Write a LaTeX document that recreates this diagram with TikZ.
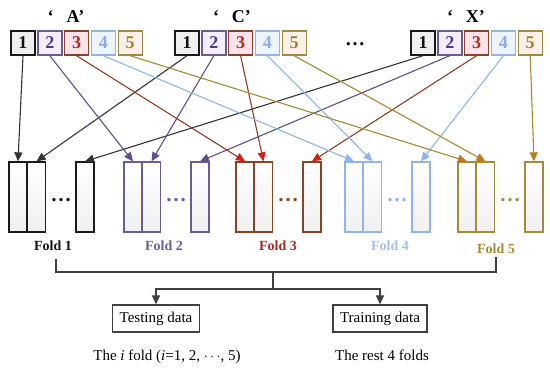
\documentclass[tikz,border=0pt]{standalone}
\usepackage{fontspec}
\setmainfont{Liberation Serif}
\usepackage{tikz}
\usetikzlibrary{arrows.meta,calc,positioning}
% colours of the five parts
\definecolor{bd1}{HTML}{1A1A1A} \definecolor{bd2}{HTML}{6B5B9B} \definecolor{bd3}{HTML}{8E4224}
\definecolor{bd4}{HTML}{93B3EE} \definecolor{bd5}{HTML}{A68A35}
\definecolor{tx1}{HTML}{111111} \definecolor{tx2}{HTML}{4A3C8C} \definecolor{tx3}{HTML}{B52A18}
\definecolor{tx4}{HTML}{8AA9E6} \definecolor{tx5}{HTML}{A3822F}
\definecolor{fl1}{HTML}{EFEFEF} \definecolor{fl2}{HTML}{F4EEF8} \definecolor{fl3}{HTML}{FCE2EA}
\definecolor{fl4}{HTML}{EEF4FE} \definecolor{fl5}{HTML}{FBF0EA}
\definecolor{ln1}{HTML}{333333} \definecolor{ln2}{HTML}{5E4E8E} \definecolor{ln3}{HTML}{9B3A1E}
\definecolor{ln4}{HTML}{8DB3F2} \definecolor{ln5}{HTML}{A8892E}
\definecolor{tp1}{HTML}{333333} \definecolor{tp2}{HTML}{5E4E8E} \definecolor{tp3}{HTML}{D81E10}
\definecolor{tp4}{HTML}{8DB3F2} \definecolor{tp5}{HTML}{C07A1E}
\definecolor{lb1}{HTML}{111111} \definecolor{lb2}{HTML}{6B5B9B} \definecolor{lb3}{HTML}{A8281A}
\definecolor{lb4}{HTML}{9CC0F2} \definecolor{lb5}{HTML}{A8892E}
\definecolor{brkgray}{HTML}{404040}

\begin{document}
\begin{tikzpicture}[x=1pt,y=-1pt,
  numbox/.style={draw,line width=1.4pt,minimum width=24pt,minimum height=24pt,inner sep=0pt,font=\fontsize{18}{18}\selectfont\bfseries},
  foldrect/.style={draw,line width=1.3pt,minimum width=18pt,minimum height=70pt,inner sep=0pt,top color=white,bottom color=gray!12},
  grplab/.style={anchor=base,font=\fontsize{18}{18}\selectfont\bfseries},
  foldlab/.style={font=\fontsize{14}{14}\selectfont\bfseries},
  datbox/.style={draw=brkgray,line width=1.2pt,minimum height=27pt,inner xsep=7pt,font=\fontsize{15}{15}\selectfont},
  brk/.style={draw=brkgray,line width=1.5pt},
  feed/.style={line width=1.1pt}]
\useasboundingbox (0,0) rectangle (550,369);

% top rows of numbered parts
\foreach \g/\x in {A/23,C/187,X/423}{
  \foreach \i in {1,...,5}{
    \node[numbox,draw=bd\i,fill=fl\i,text=tx\i] (\g\i) at ({\x+26.8*(\i-1)},43) {\i};
  }
}
\node[grplab] (labA) at (66,23) {‘\hspace{13pt}A’};
\node[grplab] (labC) at (232,23) {‘\hspace{13pt}C’};
\node[grplab] (labX) at (466,23) {‘\hspace{13pt}X’};
\node[font=\fontsize{20}{20}\selectfont\bfseries] (topdots) at (355,44) {…};

% the five folds
\foreach \k/\s/\lx/\ly in {1/9/53/246,2/124/164/246,3/236/278/246,4/345/390/246,5/458/496/249}{
  \node[foldrect,draw=bd\k] (fa\k) at (\s+9,197) {};
  \node[foldrect,draw=bd\k] (fb\k) at (\s+27.5,197) {};
  \node[foldrect,draw=bd\k] (fc\k) at (\s+76,197) {};
  \node[text=bd\k,font=\fontsize{21}{21}\selectfont\bfseries] (dots\k) at (\s+52,200) {…};
  \node[foldlab,text=lb\k] (lab\k) at (\lx,\ly) {Fold \k};
}

% feeding lines
\foreach \k in {1,...,5}{
  \draw[feed,draw=ln\k,-{Triangle[length=9pt,width=8pt,color=tp\k]}] (A\k.south) -- (fa\k.north);
  \draw[feed,draw=ln\k,-{Triangle[length=9pt,width=8pt,color=tp\k]}] (C\k.south) -- (fb\k.north);
  \draw[feed,draw=ln\k,-{Triangle[length=9pt,width=8pt,color=tp\k]}] (X\k.south) -- (fc\k.north);
}

% bracket and split
\node[datbox] (test) at (156,318.5) {Testing data};
\node[datbox] (train) at (380,318.5) {Training data};
\coordinate (b1) at (56,259); \coordinate (b5) at (496,257);
\coordinate (bm) at (273,272); \coordinate (sp) at (273,289);
\draw[brk] (b1) -- (56,272) -- (496,272) -- (b5);
\draw[brk] (bm) -- (sp);
\draw[brk,-{Triangle[length=9pt,width=8pt]}] (sp) -| (test.north);
\draw[brk,-{Triangle[length=9pt,width=8pt]}] (sp) -| (train.north);
\node[font=\fontsize{15}{15}\selectfont] (testtxt) at (167,357) {The \textit{i} fold (\textit{i}=1, 2, $\cdots$, 5)};
\node[font=\fontsize{15}{15}\selectfont] (traintxt) at (382,355) {The rest 4 folds};
\end{tikzpicture}
\end{document}
